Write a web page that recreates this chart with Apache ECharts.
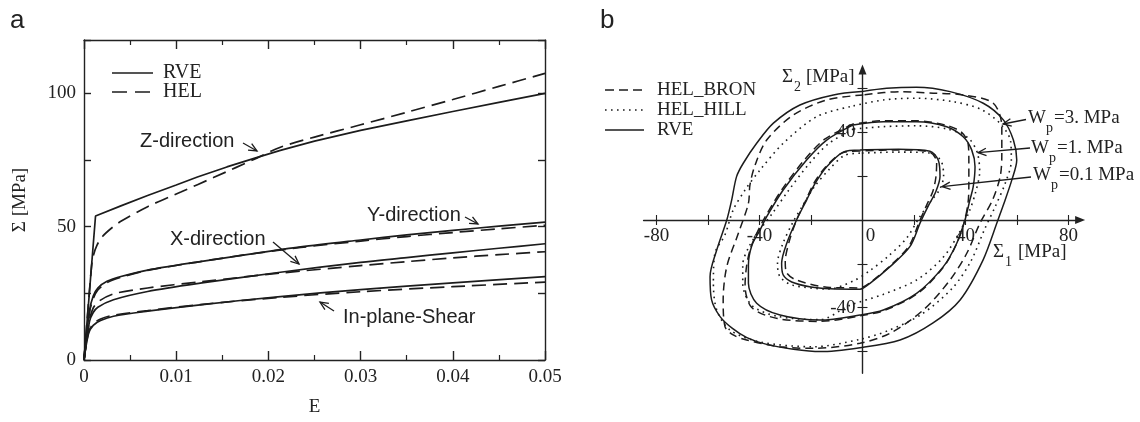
<!DOCTYPE html>
<html><head><meta charset="utf-8">
<script src="https://cdn.jsdelivr.net/npm/echarts@6/dist/echarts.min.js"></script>
<style>html,body{margin:0;padding:0;background:#fff}#c{width:1140px;height:422px}</style>
</head><body><div id="c"></div>
<script>
// ---------- Panel a : stress-strain curves ----------
const legendA = ['RVE', 'HEL'];
const zRVE = [[0,0],[0.00125,54],[0.004,57.8],[0.0069,61.7],[0.01,65.6],[0.0123,68.6],[0.0155,72.4],[0.0188,76],[0.0213,78.6],[0.025,82.1],[0.03,86.1],[0.035,89.7],[0.04,93.2],[0.045,96.6],[0.05,100]];
const zHEL = [[0,0],[0.0008,34.5],[0.001,39],[0.0014,43],[0.002,46.3],[0.003,49.5],[0.004,52],[0.0069,57.5],[0.0105,63],[0.0141,68.5],[0.0188,75.8],[0.0213,79.8],[0.025,83.6],[0.03,88.2],[0.035,92.9],[0.04,97.7],[0.045,102.6],[0.05,107.5]];
const yRVE = [[0,0],[0.0006,18.5],[0.001,24],[0.0015,27],[0.0025,29.5],[0.004,31.3],[0.0069,33.7],[0.0126,36.9],[0.018,39.7],[0.0235,42.4],[0.03,45],[0.035,46.9],[0.04,48.6],[0.045,50.2],[0.05,51.7]];
const yHEL = [[0,0],[0.0006,18],[0.001,23],[0.0015,26.3],[0.0025,29],[0.004,31],[0.0069,33.6],[0.0126,36.9],[0.018,39.7],[0.0235,42.2],[0.03,44.6],[0.035,46.3],[0.04,47.8],[0.045,49.2],[0.05,50.5]];
const xRVE = [[0,0],[0.0006,14.5],[0.001,17.8],[0.0015,19.8],[0.0032,22.6],[0.0069,25.7],[0.0126,28.8],[0.0213,32.9],[0.03,36.6],[0.035,38.4],[0.04,40.2],[0.045,41.9],[0.05,43.6]];
const xHEL = [[0,0],[0.0006,15],[0.001,19.5],[0.0016,22],[0.0032,24.8],[0.0069,27],[0.0126,29.3],[0.0213,32.6],[0.03,35.4],[0.035,36.9],[0.04,38.3],[0.045,39.5],[0.05,40.6]];
const shRVE = [[0,0],[0.0005,10],[0.001,13],[0.0018,14.8],[0.0032,16.4],[0.0069,18.3],[0.0126,20.7],[0.0213,23.8],[0.03,26.4],[0.04,28.9],[0.05,31.3]];
const shHEL = [[0,0],[0.0005,10.5],[0.001,13.5],[0.0018,15.4],[0.0032,16.8],[0.0069,18.5],[0.0126,20.8],[0.0213,23.5],[0.03,25.6],[0.04,27.5],[0.05,29.2]];
const labelsA = ['Z-direction', 'X-direction', 'Y-direction', 'In-plane-Shear'];

// ---------- Panel b : yield surfaces ----------
const legendB = ['HEL_BRON', 'HEL_HILL', 'RVE'];
const sigma1Labels = [-80, -40, 0, 40, 80];
const sigma1Ticks = [-80, -60, -40, -20, 20, 40, 60, 80];
const sigma2Labels = [-40, 40];
const sigma2Ticks = [-60, -40, -20, 20, 40, 60];
const levelLabels = ['=3. MPa', '=1. MPa', '=0.1 MPa'];

const w3RVE = [[-0.3,58.6],[-11.3,57.1],[-24.3,52.5],[-34.6,44.2],[-41.1,35],[-46.3,25.9],[-48.9,19.8],[-50.8,9.1],[-52.7,0],[-56.6,-13.7],[-59.2,-25.9],[-58.6,-36.5],[-55.3,-44.1],[-50.5,-49.5],[-44.9,-53.7],[-37.2,-56.8],[-26.8,-59],[-16.5,-60.1],[-1,-58.3],[14.6,-54.8],[27.4,-47],[37.9,-36.5],[46.8,-18.3],[52.6,0],[54.7,6.8],[58,18.3],[59.9,27.4],[58.6,36.5],[54.7,45.7],[46.9,53.3],[34,58.6],[21,60.6],[9.4,60.1],[-0.3,58.6]];
const w3BRON = [[0.3,57.1],[-13.9,54.8],[-26.9,47.9],[-37.2,36.5],[-41.7,25.1],[-43.7,16],[-44.3,7.6],[-48.2,-6.1],[-52.7,-21.3],[-54.1,-36.5],[-53.4,-48.7],[-50.2,-52.5],[-45,-54.8],[-32,-57.9],[-19.1,-58.6],[-1,-56.3],[10.7,-51.7],[23.6,-41.1],[34,-27.4],[40.5,-15.2],[45.6,-1.5],[50.5,9.1],[53.5,20],[54.1,30],[54.1,42.6],[50.8,53.3],[39.1,57.1],[27.5,57.9],[14.6,58.6],[0.3,57.1]];
const w3HILL = [[-4.9,51.7],[-17.8,47.2],[-30.8,35],[-39.8,22.8],[-45.6,13.7],[-50.2,4.6],[-53.4,-6.8],[-57.3,-15.2],[-57.9,-28.9],[-56.6,-41.1],[-51.5,-50.2],[-39.8,-55.7],[-19.1,-57.9],[-1,-54.5],[10,-50.5],[23,-43],[35,-31],[42,-19],[47.5,-4],[51.5,6],[55.5,17],[57.8,27],[57.5,36],[53.5,44],[46,50.5],[35.3,54],[21,55.6],[8.1,54.8],[-4.9,51.7]];
const w1RVE = [[-3.6,43.4],[-13.9,36.5],[-21.7,27.4],[-30.8,13.7],[-37.2,1.5],[-39.8,-4.6],[-42.9,-11.4],[-44.3,-20.5],[-44.3,-28.9],[-41.1,-38],[-32,-43.4],[-16.5,-45.7],[-1,-43.4],[8.1,-41.1],[21,-33.5],[31.4,-21.3],[36.6,-10.6],[39.8,0],[41.7,9.1],[43,15.2],[43.7,24.3],[42.4,32],[39.1,38],[32.7,42.6],[21,44.9],[8.1,44.9],[-3.6,43.4]];
const w1BRON = [[-3.6,43.8],[-14.5,37],[-22.5,27.5],[-31.5,13.5],[-38,1],[-41,-6],[-43.5,-13],[-45,-21],[-45.6,-30],[-43,-40],[-33,-45],[-16.5,-46.3],[-1,-43.8],[8.5,-41.3],[21.5,-33.5],[31.5,-21.5],[36.5,-11],[39.5,-1],[41,8],[41.3,16],[41.3,27],[41,35],[38.5,40],[32.7,43.2],[21,45.3],[8.1,45.3],[-3.6,43.8]];
const w1HILL = [[-3.6,41.5],[-13,35],[-20.5,26],[-29,13],[-35,3],[-39.5,-4],[-44,-12],[-46.5,-20.5],[-46.5,-29],[-43,-39],[-33,-44],[-16.5,-45.5],[-5,-39],[8,-34],[21,-27.4],[31,-17.5],[37.5,-6],[41.5,4],[44,13],[45.5,22],[44.5,31],[41,37.5],[33,41.5],[21,43],[8.1,42.6],[-3.6,41.5]];
const w01RVE = [[-1,32],[-7.5,31],[-13.9,24.3],[-18.4,16.7],[-21.7,9.1],[-25.6,0],[-29.4,-10.6],[-31.4,-19.8],[-30.8,-25.1],[-27.5,-28.3],[-20,-30.6],[-12.6,-31.4],[-1,-31.6],[2.9,-28.9],[10.7,-21.3],[18.4,-12.2],[22.5,-1],[25.8,7],[28.5,13],[30.1,19.8],[29.4,27.4],[26.2,31.4],[14,32.3],[-1,32]];
const w01BRON = [[-1,31.5],[-8,30.5],[-14.5,24],[-19,16.5],[-22,9],[-25.6,0],[-28.5,-10],[-30,-19],[-29.5,-24],[-25.5,-27.5],[-12.6,-30.8],[-1,-31],[3,-28.5],[10.7,-21],[18,-12],[22,-1],[25,7],[27.3,13],[28.5,19.5],[28.8,26.5],[26,31],[14,32],[-1,31.5]];
const w01HILL = [[-1,30.5],[-7,29.5],[-13,23],[-18.5,15.5],[-23,7],[-27,-1],[-31,-11],[-33,-19.8],[-32,-26],[-27,-29.8],[-13,-31.5],[-3,-27.5],[3,-23],[10,-16.5],[17,-8.5],[22,1],[26.5,8.5],[30,14],[31.5,20],[30.5,27],[26.5,30.5],[14,31],[-1,30.5]];

const INK = '#1c1c1c';
const SERIF = '"Liberation Serif", "Times New Roman", serif';
const SANS = '"Liberation Sans", Arial, sans-serif';

// grid b geometry and axis ranges
const GB = {left: 643.6, top: 69.5, width: 436.5, height: 303.8};
const S1 = {min: -85, max: 84.5};
const S2 = {min: -70, max: 68.7};
const offX = -(GB.height * (0 - S2.min) / (S2.max - S2.min));   // move x axis up to sigma2 = 0
const offY = -(GB.width * (0 - S1.min) / (S1.max - S1.min));    // move y axis right to sigma1 = 0

const chart = echarts.init(document.getElementById('c'), null, {renderer: 'canvas'});

function lineA(name, data, dashed, smooth) {
  return {name, type: 'line', xAxisIndex: 0, yAxisIndex: 0, data, showSymbol: false, symbol: 'none',
    smooth: smooth, silent: true,
    lineStyle: {color: INK, width: 1.7, type: dashed ? [14, 7] : 'solid'}};
}
function lineB(name, data, kind) {
  return {name, type: 'line', xAxisIndex: 2, yAxisIndex: 2, data, showSymbol: false, symbol: 'none',
    smooth: 0.3, silent: true,
    lineStyle: {color: INK, width: kind === 'dot' ? 1.6 : 1.5,
      type: kind === 'dash' ? [8, 5] : kind === 'dot' ? [1.6, 4.4] : 'solid'}};
}

const axisLineStyle = {color: '#222', width: 1.4};
const tickLabelA = {fontFamily: SERIF, fontSize: 19, color: '#222'};

function arrow(x1, y1, x2, y2) {
  const a = Math.atan2(y2 - y1, x2 - x1), L = 9, s = 0.42;
  return [
    {type: 'line', z: 50, shape: {x1, y1, x2, y2}, style: {stroke: INK, lineWidth: 1.3}},
    {type: 'polyline', z: 50, shape: {points: [[x2 - L * Math.cos(a - s), y2 - L * Math.sin(a - s)], [x2, y2], [x2 - L * Math.cos(a + s), y2 - L * Math.sin(a + s)]]},
      style: {stroke: INK, lineWidth: 1.3, fill: null}}
  ];
}
function txt(text, x, y, font, align) {
  return {type: 'text', z: 50, style: {text, x, y, font, fill: '#222', align: align || 'left', verticalAlign: 'middle'}};
}
function subLabel(main, sub, rest, x, y, restGap) {
  return [
    txt(main, x, y, '19px ' + SERIF),
    txt(sub, x + (main === 'W' ? 18 : 12), y + 10, '14px ' + SERIF),
    txt(rest, x + restGap, y, '19px ' + SERIF)
  ];
}
function legLine(x1, x2, y, dash) {
  return {type: 'line', z: 50, shape: {x1, y1: y, x2, y2: y}, style: {stroke: INK, lineWidth: 1.6, lineDash: dash}};
}

const graphics = [
  txt('a', 10, 21, '26px ' + SANS),
  txt('b', 600, 21, '26px ' + SANS),
  // legend a
  legLine(112, 153, 73, null), txt(legendA[0], 163, 73, '20px ' + SERIF),
  legLine(112, 153, 92, [15, 8]), txt(legendA[1], 163, 92, '20px ' + SERIF),
  // annotations a
  txt(labelsA[0], 140, 141, '20px ' + SANS), ...arrow(243, 143, 257, 151),
  txt(labelsA[1], 170, 239, '20px ' + SANS), ...arrow(273, 242, 299, 264),
  txt(labelsA[2], 367, 215, '20px ' + SANS), ...arrow(465, 217, 478, 224),
  txt(labelsA[3], 343, 317, '20px ' + SANS), ...arrow(334, 311, 320, 302),
  // legend b
  legLine(605, 644, 90, [9, 5]), txt(legendB[0], 657, 90, '19px ' + SERIF),
  legLine(605, 644, 110, [1.6, 4.4]), txt(legendB[1], 657, 110, '19px ' + SERIF),
  legLine(605, 644, 130, null), txt(legendB[2], 657, 130, '19px ' + SERIF),
  // axis names b
  ...subLabel('Σ', '2', '[MPa]', 782, 77, 24),
  ...subLabel('Σ', '1', '[MPa]', 993, 252, 25),
  // level annotations b
  ...subLabel('W', 'p', levelLabels[0], 1028, 118, 26), ...arrow(1026, 119.5, 1003, 124),
  ...subLabel('W', 'p', levelLabels[1], 1031, 148, 26), ...arrow(1030, 148, 978, 152.7),
  ...subLabel('W', 'p', levelLabels[2], 1033, 175, 26), ...arrow(1031, 177, 942, 186.7)
];

const option = {
  animation: false,
  backgroundColor: '#fff',
  grid: [
    {left: 84, top: 40, width: 461, height: 322.5, containLabel: false},
    {left: GB.left, top: GB.top, width: GB.width, height: GB.height, containLabel: false}
  ],
  xAxis: [
    {gridIndex: 0, type: 'value', min: 0, max: 0.05, interval: 0.01, position: 'bottom',
      name: 'E', nameLocation: 'middle', nameGap: 38, nameTextStyle: {fontFamily: SERIF, fontSize: 19, color: '#222'},
      axisLine: {onZero: false, lineStyle: axisLineStyle},
      axisTick: {inside: true, length: 9, lineStyle: axisLineStyle},
      minorTick: {show: true, splitNumber: 2, length: 5, lineStyle: {color: '#222', width: 1.2}},
      axisLabel: Object.assign({margin: 8}, tickLabelA), splitLine: {show: false}},
    {gridIndex: 0, type: 'value', min: 0, max: 0.05, interval: 0.01, position: 'top',
      axisLine: {onZero: false, lineStyle: axisLineStyle},
      axisTick: {inside: true, length: 9, lineStyle: axisLineStyle},
      minorTick: {show: true, splitNumber: 2, length: 5, lineStyle: {color: '#222', width: 1.2}},
      axisLabel: {show: false}, splitLine: {show: false}},
    {gridIndex: 1, type: 'value', min: S1.min, max: S1.max, position: 'bottom', offset: offX,
      axisLine: {onZero: false, lineStyle: axisLineStyle, symbol: ['none', 'triangle'], symbolSize: [8, 10]},
      axisTick: {show: true, inside: false, length: 5, customValues: sigma1Ticks, lineStyle: {color: '#222', width: 1.1}},
      axisLabel: {customValues: sigma1Labels, margin: 7, fontFamily: SERIF, fontSize: 19, color: '#222',
        formatter: v => v === 0 ? '{z|0}' : String(v),
        rich: {z: {fontFamily: SERIF, fontSize: 19, color: '#222', padding: [0, 0, 0, 16]}}},
      splitLine: {show: false}},
    {gridIndex: 1, type: 'value', min: S1.min, max: S1.max, position: 'bottom', offset: offX,
      axisLine: {show: false, onZero: false},
      axisTick: {show: true, inside: true, length: 5, customValues: sigma1Ticks, lineStyle: {color: '#222', width: 1.1}},
      axisLabel: {show: false}, splitLine: {show: false}}
  ],
  yAxis: [
    {gridIndex: 0, type: 'value', min: 0, max: 120, interval: 25, position: 'left',
      name: 'Σ [MPa]', nameLocation: 'middle', nameGap: 54, nameRotate: 90,
      nameTextStyle: {fontFamily: SERIF, fontSize: 19, color: '#222'},
      axisLine: {onZero: false, lineStyle: axisLineStyle},
      axisTick: {inside: true, length: 7, lineStyle: axisLineStyle},
      axisLabel: Object.assign({margin: 8, formatter: v => (v % 50 === 0 ? String(v) : '')}, tickLabelA),
      splitLine: {show: false}},
    {gridIndex: 0, type: 'value', min: 0, max: 120, interval: 25, position: 'right',
      axisLine: {onZero: false, lineStyle: axisLineStyle},
      axisTick: {inside: true, length: 7, lineStyle: axisLineStyle},
      axisLabel: {show: false}, splitLine: {show: false}},
    {gridIndex: 1, type: 'value', min: S2.min, max: S2.max, position: 'left', offset: offY,
      axisLine: {onZero: false, lineStyle: axisLineStyle, symbol: ['none', 'triangle'], symbolSize: [8, 10]},
      axisTick: {show: true, inside: false, length: 5, customValues: sigma2Ticks, lineStyle: {color: '#222', width: 1.1}},
      axisLabel: {customValues: sigma2Labels, margin: 7, fontFamily: SERIF, fontSize: 19, color: '#222'},
      splitLine: {show: false}},
    {gridIndex: 1, type: 'value', min: S2.min, max: S2.max, position: 'left', offset: offY,
      axisLine: {show: false, onZero: false},
      axisTick: {show: true, inside: true, length: 5, customValues: sigma2Ticks, lineStyle: {color: '#222', width: 1.1}},
      axisLabel: {show: false}, splitLine: {show: false}}
  ],
  series: [
    lineA('Z RVE', zRVE, false, false),
    lineA('Z HEL', zHEL, true, 0.3),
    lineA('Y RVE', yRVE, false, 0.3),
    lineA('Y HEL', yHEL, true, 0.3),
    lineA('X RVE', xRVE, false, 0.3),
    lineA('X HEL', xHEL, true, 0.3),
    lineA('Shear RVE', shRVE, false, 0.3),
    lineA('Shear HEL', shHEL, true, 0.3),
    lineB('Wp3 RVE', w3RVE, 'solid'),
    lineB('Wp3 BRON', w3BRON, 'dash'),
    lineB('Wp3 HILL', w3HILL, 'dot'),
    lineB('Wp1 RVE', w1RVE, 'solid'),
    lineB('Wp1 BRON', w1BRON, 'dash'),
    lineB('Wp1 HILL', w1HILL, 'dot'),
    lineB('Wp0.1 RVE', w01RVE, 'solid'),
    lineB('Wp0.1 BRON', w01BRON, 'dash'),
    lineB('Wp0.1 HILL', w01HILL, 'dot')
  ],
  graphic: {elements: graphics}
};
chart.setOption(option);
</script>
</body></html>
